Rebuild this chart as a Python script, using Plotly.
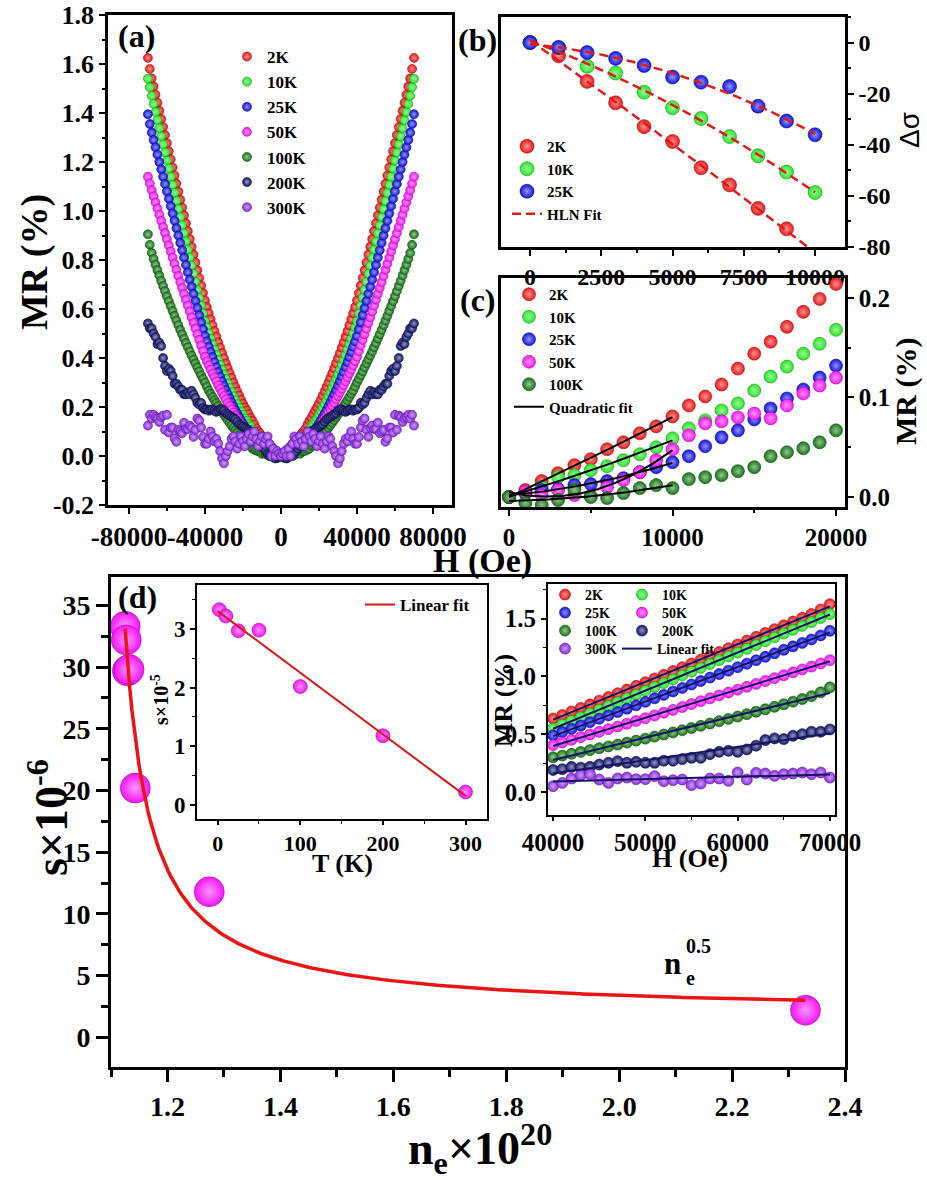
import numpy as np
import plotly.graph_objects as go

W, HH = 927, 1180
FONT = "Liberation Serif"

# ---------------- data ----------------
# field grid (Oe), positive half; curves are symmetric in H
H_field = list(range(0, 71000, 1000))
temps = ["2K", "10K", "25K", "50K", "100K", "200K", "300K"]

mr_2K = [0.000, 0.007, 0.016, 0.024, 0.032, 0.038, 0.048, 0.055, 0.064, 0.071,
         0.081, 0.092, 0.101, 0.113, 0.129, 0.144, 0.156, 0.171, 0.186, 0.199,
         0.214, 0.230, 0.247, 0.264, 0.282, 0.300, 0.319, 0.338, 0.358, 0.378,
         0.399, 0.420, 0.442, 0.464, 0.487, 0.510, 0.534, 0.558, 0.583, 0.608,
         0.635, 0.665, 0.696, 0.727, 0.758, 0.790, 0.822, 0.854, 0.886, 0.918,
         0.950, 0.982, 1.014, 1.046, 1.079, 1.112, 1.145, 1.178, 1.211, 1.244,
         1.277, 1.310, 1.343, 1.376, 1.409, 1.442, 1.475, 1.508, 1.541, 1.580, 1.625]
mr_10K = [0.000, 0.004, 0.010, 0.020, 0.022, 0.027, 0.031, 0.037, 0.043, 0.050,
          0.059, 0.069, 0.077, 0.087, 0.094, 0.107, 0.121, 0.131, 0.144, 0.154,
          0.168, 0.182, 0.197, 0.212, 0.228, 0.244, 0.261, 0.278, 0.296, 0.314,
          0.333, 0.352, 0.372, 0.392, 0.413, 0.434, 0.456, 0.478, 0.501, 0.525,
          0.550, 0.582, 0.614, 0.646, 0.678, 0.711, 0.744, 0.777, 0.810, 0.843,
          0.876, 0.909, 0.942, 0.975, 1.008, 1.041, 1.074, 1.107, 1.140, 1.173,
          1.206, 1.239, 1.272, 1.305, 1.338, 1.371, 1.404, 1.437, 1.470, 1.505, 1.540]
mr_25K = [0.000, 0.004, 0.007, 0.008, 0.012, 0.013, 0.016, 0.019, 0.025, 0.030,
          0.035, 0.041, 0.051, 0.060, 0.067, 0.078, 0.089, 0.099, 0.108, 0.120,
          0.132, 0.145, 0.159, 0.173, 0.188, 0.203, 0.219, 0.235, 0.252, 0.269,
          0.287, 0.305, 0.324, 0.343, 0.363, 0.383, 0.404, 0.425, 0.446, 0.468,
          0.490, 0.518, 0.546, 0.575, 0.604, 0.633, 0.662, 0.691, 0.720, 0.750,
          0.780, 0.810, 0.840, 0.870, 0.900, 0.930, 0.960, 0.990, 1.020, 1.050,
          1.080, 1.110, 1.140, 1.170, 1.200, 1.230, 1.260, 1.290, 1.320, 1.355, 1.395]
mr_50K = [0.000, 0.005, 0.002, 0.007, 0.002, 0.001, 0.010, 0.017, 0.025, 0.037,
          0.048, 0.062, 0.074, 0.076, 0.080, 0.084, 0.079, 0.092, 0.104, 0.112,
          0.120, 0.131, 0.142, 0.154, 0.166, 0.178, 0.191, 0.204, 0.217, 0.231,
          0.245, 0.259, 0.274, 0.289, 0.305, 0.321, 0.337, 0.353, 0.370, 0.387,
          0.405, 0.428, 0.451, 0.474, 0.497, 0.520, 0.543, 0.566, 0.590, 0.614,
          0.638, 0.662, 0.686, 0.710, 0.735, 0.760, 0.785, 0.810, 0.835, 0.860,
          0.885, 0.910, 0.935, 0.960, 0.985, 1.010, 1.035, 1.060, 1.085, 1.112, 1.140]
mr_100K = [0.000, -0.006, -0.008, -0.003, 0.007, 0.000, -0.001, 0.004, 0.009, 0.012,
           0.009, 0.018, 0.020, 0.022, 0.026, 0.030, 0.041, 0.045, 0.049, 0.055,
           0.067, 0.076, 0.085, 0.095, 0.105, 0.115, 0.125, 0.136, 0.147, 0.158,
           0.169, 0.180, 0.192, 0.204, 0.216, 0.228, 0.241, 0.254, 0.267, 0.283,
           0.300, 0.315, 0.330, 0.346, 0.362, 0.378, 0.394, 0.410, 0.427, 0.444,
           0.461, 0.479, 0.497, 0.515, 0.534, 0.553, 0.572, 0.592, 0.612, 0.632,
           0.652, 0.673, 0.694, 0.715, 0.737, 0.759, 0.781, 0.804, 0.829, 0.862, 0.905]
mr_200K = [0.000, 0.000, -0.005, -0.010, -0.005, 0.000, 0.005, 0.010, 0.020, 0.030,
           0.040, 0.050, 0.060, 0.070, 0.080, 0.090, 0.100, 0.105, 0.110, 0.115,
           0.120, 0.125, 0.130, 0.140, 0.150, 0.155, 0.160, 0.165, 0.170, 0.175,
           0.185, 0.190, 0.190, 0.185, 0.180, 0.185, 0.190, 0.190, 0.185, 0.190,
           0.190, 0.197, 0.217, 0.210, 0.217, 0.237, 0.252, 0.266, 0.252, 0.260,
           0.252, 0.252, 0.270, 0.270, 0.284, 0.295, 0.295, 0.327, 0.347, 0.356,
           0.347, 0.368, 0.400, 0.449, 0.463, 0.457, 0.486, 0.500, 0.521, 0.521, 0.541]
mr_300K = [0.000, 0.010, 0.020, 0.000, 0.030, 0.000, 0.050, 0.080, 0.070, 0.050,
           0.080, 0.060, 0.040, 0.070, 0.100, 0.080, 0.060, 0.090, 0.070, 0.040,
           0.060, 0.080, 0.050, 0.030, 0.060, 0.080, 0.070, 0.040, 0.020, 0.000,
           -0.030, -0.010, 0.020, 0.050, 0.070, 0.060, 0.080, 0.100, 0.070, 0.050,
           0.050, 0.078, 0.116, 0.145, 0.153, 0.107, 0.078, 0.116, 0.124, 0.110,
           0.110, 0.136, 0.093, 0.101, 0.107, 0.058, 0.072, 0.116, 0.116, 0.096,
           0.168, 0.107, 0.165, 0.159, 0.139, 0.153, 0.159, 0.168, 0.153, 0.168, 0.124]
mr_all = [mr_2K, mr_10K, mr_25K, mr_50K, mr_100K, mr_200K, mr_300K]

colors = ["rgb(238,24,24)", "rgb(40,232,40)", "rgb(20,20,225)", "rgb(248,24,248)",
          "rgb(24,120,24)", "rgb(18,22,105)", "rgb(140,45,228)"]

# panel (b): HLN conductance change
H_b = list(range(0, 11000, 1000))
ds_2K = [0.0, -5.2, -15.2, -23.6, -32.9, -38.7, -49.0, -55.7, -64.9, -72.9, -83.0]
ds_10K = [0.0, -2.0, -9.3, -11.9, -19.4, -25.5, -29.7, -36.8, -44.3, -50.7, -58.7]
ds_25K = [0.0, -1.9, -3.9, -6.2, -9.0, -13.5, -15.5, -17.2, -24.9, -30.7, -36.1]
temps_b = ["2K", "10K", "25K"]

# panel (c): low field, 0-20000 Oe
c_count = 21
temps_c = ["2K", "10K", "25K", "50K", "100K"]
fit_c_max = 10000

# panel (d): s vs n_e
ne = [1.125, 1.127, 1.129, 1.132, 1.143, 1.274, 2.330]
s6 = [33.3, 32.2, 29.7, 29.8, 20.2, 11.8, 2.2]
fit_A, fit_n0, fit_B = 1.406, 1.08, 1.875   # fitted curve s = A/(n-n0)+B
T_K = [2, 10, 25, 50, 100, 200, 300]
s5 = [3.33, 3.22, 2.97, 2.98, 2.02, 1.18, 0.22]
H_inset_min = 40000

# tick labels
a_xt = [-80000, -40000, 0, 40000, 80000]
a_xl = ["-80000", "-40000", "0", "40000", "80000"]
a_yt = [-0.2, 0.0, 0.2, 0.4, 0.6, 0.8, 1.0, 1.2, 1.4, 1.6, 1.8]
a_yl = ["-0.2", "0.0", "0.2", "0.4", "0.6", "0.8", "1.0", "1.2", "1.4", "1.6", "1.8"]
b_xt = [0, 2500, 5000, 7500, 10000]
b_xl = ["0", "2500", "5000", "7500", "10000"]
b_yt = [0, -20, -40, -60, -80]
b_yl = ["0", "-20", "-40", "-60", "-80"]
c_xt = [0, 10000, 20000]
c_xl = ["0", "10000", "20000"]
c_yt = [0.0, 0.1, 0.2]
c_yl = ["0.0", "0.1", "0.2"]
d_xt = [1.2, 1.4, 1.6, 1.8, 2.0, 2.2, 2.4]
d_xl = ["1.2", "1.4", "1.6", "1.8", "2.0", "2.2", "2.4"]
d_yt = [0, 5, 10, 15, 20, 25, 30, 35]
i1_xt = [0, 100, 200, 300]
i1_yt = [0, 1, 2, 3]
i2_xt = [40000, 50000, 60000, 70000]
i2_xl = ["40000", "50000", "60000", "70000"]
i2_yt = [0.0, 0.5, 1.0, 1.5]
i2_yl = ["0.0", "0.5", "1.0", "1.5"]


# ---------------- helpers ----------------
def parse(c):
    return [int(v) for v in c[4:-1].split(",")]


def tint(c, f):
    r, g, b = parse(c)
    return "rgb(%d,%d,%d)" % (r + (255 - r) * f, g + (255 - g) * f, b + (255 - b) * f)


def shade(c, f):
    r, g, b = parse(c)
    return "rgb(%d,%d,%d)" % (r * f, g * f, b * f)


def ball(c, size):
    return dict(color=c, size=size, gradient=dict(type="radial", color=tint(c, 0.55)),
                line=dict(width=0.6, color=shade(c, 0.65)))


def xd(a, b):
    return [a / W, b / W]


def yd(top, bottom):
    return [1 - bottom / HH, 1 - top / HH]


def tf(size):
    return dict(family=FONT, size=size, color="black", weight="bold")


fig = go.Figure()

# ---------------- panel (a) ----------------
for name, mr, col in zip(temps, mr_all, colors):
    xs = [-h for h in H_field[:0:-1]] + H_field
    ys = mr[:0:-1] + mr
    fig.add_trace(go.Scatter(x=xs, y=ys, mode="markers", name=name, marker=ball(col, 9),
                             xaxis="x", yaxis="y", legend="legend"))

# ---------------- panel (b) ----------------
ds_all = [ds_2K, ds_10K, ds_25K]
for name, ds, col in zip(temps_b, ds_all, colors[:3]):
    fig.add_trace(go.Scatter(x=H_b, y=ds, mode="markers", name=name, marker=ball(col, 14),
                             xaxis="x2", yaxis="y2", legend="legend2"))
hb = np.linspace(H_b[0], H_b[-1], 200)
for i, ds in enumerate(ds_all):
    p = np.polyfit(H_b, ds, 2)
    fig.add_trace(go.Scatter(x=hb, y=np.polyval(p, hb), mode="lines", name="HLN Fit",
                             line=dict(color="rgb(225,25,25)", width=2.5, dash="9px,5px"),
                             showlegend=(i == 0), xaxis="x2", yaxis="y2", legend="legend2"))

# ---------------- panel (c) ----------------
for name, mr, col in zip(temps_c, mr_all[:5], colors[:5]):
    fig.add_trace(go.Scatter(x=H_field[:c_count], y=mr[:c_count], mode="markers", name=name,
                             marker=ball(col, 13), xaxis="x3", yaxis="y3", legend="legend3"))
hc = np.linspace(0, fit_c_max, 100)
nfit = H_field.index(fit_c_max) + 1
for i, mr in enumerate(mr_all[:5]):
    p = np.polyfit(H_field[:nfit], mr[:nfit], 2)
    fig.add_trace(go.Scatter(x=hc, y=np.polyval(p, hc), mode="lines", name="Quadratic fit",
                             line=dict(color="black", width=2), showlegend=(i == 0),
                             xaxis="x3", yaxis="y3", legend="legend3"))

# ---------------- panel (d) main ----------------
fig.add_trace(go.Scatter(x=ne, y=s6, mode="markers", marker=ball("rgb(245,20,245)", 30),
                         showlegend=False, xaxis="x4", yaxis="y4"))
nn = np.linspace(min(ne), max(ne), 300)
fig.add_trace(go.Scatter(x=nn, y=fit_A / (nn - fit_n0) + fit_B, mode="lines",
                         line=dict(color="rgb(235,20,20)", width=3.5), showlegend=False,
                         xaxis="x4", yaxis="y4"))

# ---------------- inset 1: s vs T ----------------
fig.add_trace(go.Scatter(x=T_K, y=s5, mode="markers", marker=ball("rgb(245,20,245)", 14),
                         showlegend=False, xaxis="x5", yaxis="y5"))
pT = np.polyfit(T_K, s5, 1)
tt = np.array([0, 300])
fig.add_trace(go.Scatter(x=tt, y=np.polyval(pT, tt), mode="lines", name="Linear fit",
                         line=dict(color="rgb(215,25,25)", width=2), xaxis="x5", yaxis="y5",
                         legend="legend4"))

# ---------------- inset 2: high field linear ----------------
i0 = H_field.index(H_inset_min)
legs = ["legend5", "legend5", "legend6", "legend6", "legend7", "legend7", "legend8"]
for name, mr, col, lg in zip(temps, mr_all, colors, legs):
    fig.add_trace(go.Scatter(x=H_field[i0:], y=mr[i0:], mode="markers", name=name,
                             marker=ball(col, 11), xaxis="x6", yaxis="y6", legend=lg))
hh = np.array([H_field[i0], H_field[-1]])
for i, mr in enumerate(mr_all):
    p = np.polyfit(H_field[i0:], mr[i0:], 1)
    fig.add_trace(go.Scatter(x=hh, y=np.polyval(p, hh), mode="lines", name="Linear fit",
                             line=dict(color="rgb(20,20,100)", width=2), showlegend=(i == 0),
                             xaxis="x6", yaxis="y6", legend="legend9"))

# ---------------- axes ----------------
base = dict(showline=True, linecolor="black", mirror=True, ticks="outside", tickcolor="black",
            showgrid=False, zeroline=False, tickangle=0, automargin=False)


def mnr(dt, ln, wd, t0=None):
    d = dict(dtick=dt, ticks="outside", ticklen=ln, tickwidth=wd, tickcolor="black")
    if t0 is not None:
        d["tick0"] = t0
    return d


fig.update_layout(
    xaxis=dict(base, domain=xd(108, 452), range=[-91000, 90000], tickvals=a_xt, ticktext=a_xl,
               linewidth=2.5, ticklen=6, tickwidth=2, tickfont=tf(27), anchor="y",
               minor=mnr(20000, 3, 1.5)),
    yaxis=dict(base, domain=yd(15, 505), range=[-0.2, 1.8], tickvals=a_yt, ticktext=a_yl,
               linewidth=2.5, ticklen=6, tickwidth=2, tickfont=tf(26), anchor="x",
               minor=mnr(0.1, 3, 1.5)),
    xaxis2=dict(base, domain=xd(501, 845), range=[-1020, 11050], tickvals=b_xt, ticktext=b_xl,
                linewidth=2.5, ticklen=6, tickwidth=2, tickfont=tf(24), anchor="y2",
                minor=mnr(1250, 3, 1.5)),
    yaxis2=dict(base, domain=yd(17, 247), range=[-80, 10], side="right", tickvals=b_yt, ticktext=b_yl,
                linewidth=2.5, ticklen=6, tickwidth=2, tickfont=tf(24), anchor="x2",
                minor=mnr(10, 3, 1.5)),
    xaxis3=dict(base, domain=xd(501, 845), range=[-490, 20550], tickvals=c_xt, ticktext=c_xl,
                linewidth=2.5, ticklen=6, tickwidth=2, tickfont=tf(25), anchor="y3",
                minor=mnr(5000, 3, 1.5)),
    yaxis3=dict(base, domain=yd(278, 507), range=[-0.01, 0.22], side="right", tickvals=c_yt,
                ticktext=c_yl, linewidth=2.5, ticklen=6, tickwidth=2, tickfont=tf(25), anchor="x3",
                minor=mnr(0.05, 3, 1.5)),
    xaxis4=dict(base, domain=xd(111, 845), range=[1.1, 2.4], tickvals=d_xt, ticktext=d_xl,
                linewidth=3, ticklen=12, tickwidth=3, tickfont=tf(28), anchor="y4",
                minor=mnr(0.1, 7, 2.5, 1.1)),
    yaxis4=dict(base, domain=yd(577, 1067), range=[-2.4, 37.3], tickvals=d_yt,
                linewidth=3, ticklen=12, tickwidth=3, tickfont=tf(28), anchor="x4",
                minor=mnr(2.5, 7, 2.5)),
    xaxis5=dict(base, domain=xd(197, 487), range=[-25, 326], tickvals=i1_xt,
                linewidth=2, ticklen=4, tickwidth=1.5, tickfont=tf(22), anchor="y5",
                minor=mnr(50, 3, 1.2)),
    yaxis5=dict(base, domain=yd(585, 819), range=[-0.24, 3.75], tickvals=i1_yt,
                linewidth=2, ticklen=5, tickwidth=1.5, tickfont=tf(23), anchor="x5",
                minor=mnr(0.5, 3, 1.2)),
    xaxis6=dict(base, domain=xd(548, 835), range=[39450, 70550], tickvals=i2_xt, ticktext=i2_xl,
                linewidth=2, ticklen=4, tickwidth=1.5, tickfont=tf(25), anchor="y6",
                minor=mnr(5000, 3, 1.2)),
    yaxis6=dict(base, domain=yd(584, 815), range=[-0.2, 1.8], tickvals=i2_yt, ticktext=i2_yl,
                linewidth=2, ticklen=5, tickwidth=1.5, tickfont=tf(25), anchor="x6",
                minor=mnr(0.25, 3, 1.2)),
)


def leg(left, top, size, horiz=False):
    d = dict(x=left / W, y=1 - top / HH, xanchor="left", yanchor="top", bgcolor="rgba(0,0,0,0)",
             font=tf(size), tracegroupgap=0, itemsizing="trace", borderwidth=0)
    if horiz:
        d.update(orientation="h", entrywidth=32, entrywidthmode="pixels")
    return d


fig.update_layout(
    legend=leg(227, 39, 17),
    legend2=leg(507, 130, 15),
    legend3=leg(509, 278, 15),
    legend4=leg(360, 587, 17),
    legend5=leg(545, 579, 14, True),
    legend6=leg(545, 597, 14, True),
    legend7=leg(545, 615, 14, True),
    legend8=leg(545, 633, 14, True),
    legend9=leg(617, 633, 14),
)

# ---------------- annotations ----------------
ann = []


def add(text, px, py, size, angle=0, family=FONT, weight="bold"):
    ann.append(dict(text=text, x=px / W, y=1 - py / HH, xref="paper", yref="paper",
                    showarrow=False, xanchor="center", yanchor="middle", textangle=angle,
                    font=dict(family=family, size=size, color="black", weight=weight)))


add("(a)", 136, 36, 32)
add("(b)", 477, 40, 32)
add("(c)", 478, 300, 32)
add("(d)", 137, 597, 32)
add("MR (%)", 35, 262, 38, -90)
add("H (Oe)", 482, 561, 34)
add("Δσ", 909, 130, 28, -90, "Liberation Sans", "normal")
add("MR (%)", 906, 392, 30, -90)
add("s×10<sup>-6</sup>", 48, 818, 46, -90)
add("n<sub>e</sub>×10<sup>20</sup>", 480, 1148, 46)
add("n", 672, 963, 31)
add("e", 690, 978, 20)
add("0.5", 698, 946, 20)
add("T (K)", 342, 863, 26)
add("s×10<sup>-5</sup>", 160, 700, 20, -90)
add("H (Oe)", 690, 858, 26)
add("MR (%)", 503, 700, 26, -90)

fig.update_layout(annotations=ann, width=W, height=HH, autosize=False,
                  margin=dict(l=0, r=0, t=0, b=0, pad=0, autoexpand=False),
                  paper_bgcolor="white", plot_bgcolor="white",
                  font=dict(family=FONT, color="black"))

fig.write_html("out.html", config={"displayModeBar": False},
               post_script="document.body.style.margin='0px';document.body.style.overflow='hidden';")
